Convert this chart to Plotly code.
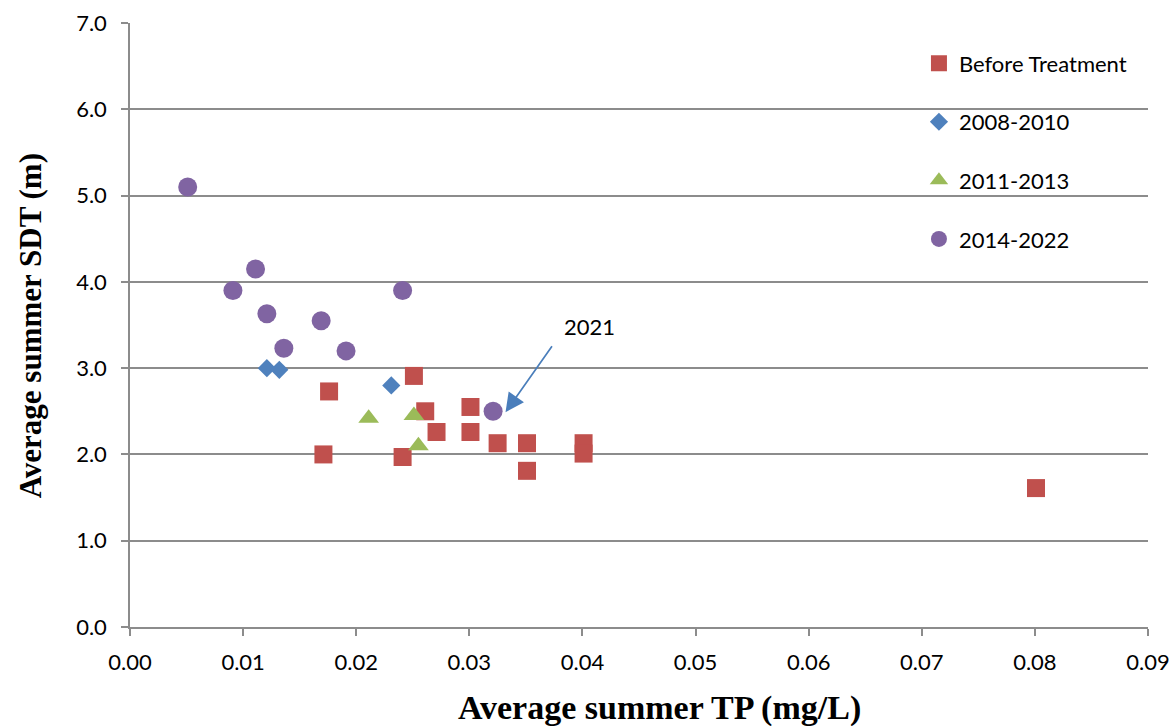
import plotly.graph_objects as go

# Data
before_tp = [0.0171, 0.0176, 0.0241, 0.0251, 0.0261, 0.0271, 0.0301, 0.0301, 0.0325, 0.0351, 0.0351, 0.0401, 0.0401, 0.0801]
before_sdt = [2.00, 2.73, 1.97, 2.91, 2.50, 2.26, 2.55, 2.26, 2.13, 2.13, 1.81, 2.13, 2.01, 1.61]

p0810_tp = [0.0121, 0.0132, 0.0231]
p0810_sdt = [3.00, 2.98, 2.80]

p1113_tp = [0.0211, 0.0251, 0.0255]
p1113_sdt = [2.42, 2.45, 2.10]

p1422_tp = [0.0051, 0.0091, 0.0111, 0.0121, 0.0136, 0.0169, 0.0191, 0.0241, 0.0321]
p1422_sdt = [5.10, 3.90, 4.15, 3.63, 3.23, 3.55, 3.20, 3.90, 2.50]

x_ticks = [0.00, 0.01, 0.02, 0.03, 0.04, 0.05, 0.06, 0.07, 0.08, 0.09]
y_ticks = [0.0, 1.0, 2.0, 3.0, 4.0, 5.0, 6.0, 7.0]

RED = "#C0504D"
BLUE = "#4F81BD"
GREEN = "#9BBB59"
PURPLE = "#8064A2"
GRID = "#8C8C8C"
TICKFONT = dict(family="Lato, Open Sans, sans-serif", size=22, color="#000000")
XTITLEFONT = dict(family="Liberation Serif, Times New Roman, serif", size=34, color="#000000")
YTITLEFONT = dict(family="Liberation Serif, Times New Roman, serif", size=31, color="#000000")

fig = go.Figure()
fig.add_trace(go.Scatter(x=before_tp, y=before_sdt, mode="markers", name="Before Treatment",
                         legendgroup="a",
                         marker=dict(symbol="square", size=18, color=RED)))
fig.add_trace(go.Scatter(x=p0810_tp, y=p0810_sdt, mode="markers", name="2008-2010",
                         legendgroup="b",
                         marker=dict(symbol="diamond", size=14, color=BLUE)))
fig.add_trace(go.Scatter(x=p1113_tp, y=p1113_sdt, mode="markers", name="2011-2013",
                         legendgroup="c",
                         marker=dict(symbol="triangle-up", size=18, color=GREEN)))
fig.add_trace(go.Scatter(x=p1422_tp, y=p1422_sdt, mode="markers", name="2014-2022",
                         legendgroup="d",
                         marker=dict(symbol="circle", size=19, color=PURPLE)))

# Arrow pointing to the 2021 point
fig.add_annotation(x=0.0332, y=2.49, ax=0.0374, ay=3.27, xref="x", yref="y",
                   axref="x", ayref="y", showarrow=True, arrowhead=2, arrowsize=2.2,
                   arrowwidth=1.7, arrowcolor="#4A7EBB", text="")
fig.add_annotation(x=0.0406, y=3.48, xref="x", yref="y", text="2021", showarrow=False,
                   font=TICKFONT)

# Axis titles
fig.add_annotation(x=0.5206, y=-0.134, xref="paper", yref="paper",
                   text="<b>Average summer TP (mg/L)</b>", showarrow=False,
                   xanchor="center", yanchor="middle", font=XTITLEFONT)
fig.add_annotation(x=-0.0982, y=0.498, xref="paper", yref="paper",
                   text="<b>Average summer SDT (m)</b>", showarrow=False, textangle=-90,
                   xanchor="center", yanchor="middle", font=YTITLEFONT)

fig.update_layout(
    width=1176, height=726,
    margin=dict(l=130, r=28, t=23, b=99, autoexpand=False),
    paper_bgcolor="white", plot_bgcolor="white",
    showlegend=True,
    legend=dict(x=0.775, y=0.968, xanchor="left", yanchor="top",
                bgcolor="rgba(0,0,0,0)", font=TICKFONT, tracegroupgap=27,
                itemsizing="trace"),
    xaxis=dict(range=[0, 0.09], tickvals=x_ticks, ticktext=[f"{v:.2f}" for v in x_ticks],
               showgrid=False, zeroline=False, showline=True, linecolor=GRID, linewidth=1.5,
               ticks="outside", ticklen=7, tickcolor=GRID, tickwidth=1.5,
               tickfont=TICKFONT, automargin=False, ticklabelstandoff=8),
    yaxis=dict(range=[0, 7], tickvals=y_ticks, ticktext=[f"{v:.1f}" for v in y_ticks],
               showgrid=True, gridcolor=GRID, gridwidth=1.5, zeroline=False,
               showline=True, linecolor=GRID, linewidth=1.5,
               ticks="outside", ticklen=7, tickcolor=GRID, tickwidth=1.5,
               tickfont=TICKFONT, automargin=False, ticklabelstandoff=10),
)

fig.write_html("out.html")
